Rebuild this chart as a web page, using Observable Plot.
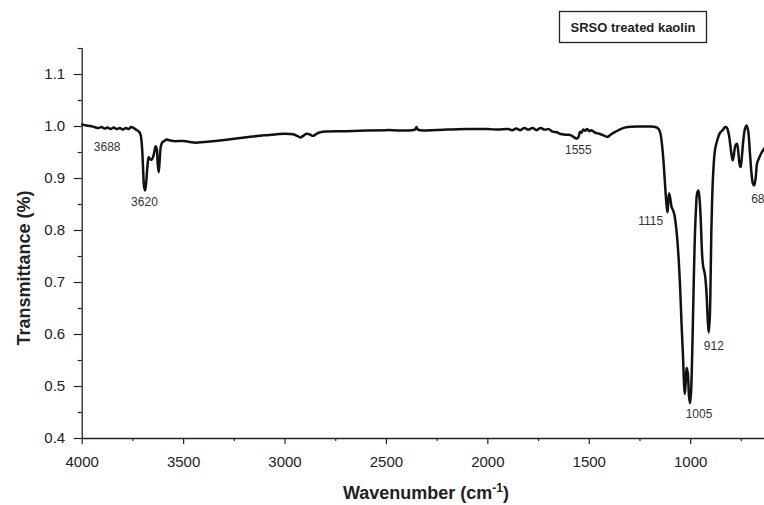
<!DOCTYPE html>
<html>
<head>
<meta charset="utf-8">
<script src="https://cdn.jsdelivr.net/npm/d3@7"></script>
<script src="https://cdn.jsdelivr.net/npm/@observablehq/plot@0.6"></script>
<style>
  html, body { margin: 0; padding: 0; background: #fff; }
  #chart { position: relative; width: 764px; height: 505px; overflow: hidden; }
</style>
</head>
<body>
<div id="chart"></div>
<script>
// ---- data ----
const wavenumber = [
  4000, 3980, 3960, 3940, 3920, 3905, 3890, 3875, 3860, 3845, 3830, 3815, 3800, 3785, 3770, 3760, 3750, 3735, 3720, 3712,
  3705, 3700, 3695, 3690, 3685, 3678, 3672, 3665, 3658, 3652, 3645, 3638, 3633, 3628, 3623, 3618, 3612, 3604, 3595, 3585,
  3575, 3550, 3500, 3450, 3400, 3300, 3200, 3100, 3000, 2960, 2940, 2925, 2910, 2895, 2880, 2860, 2845, 2825, 2700, 2500,
  2360, 2352, 2345, 2200, 2100, 2000, 1950, 1900, 1880, 1860, 1840, 1820, 1800, 1780, 1760, 1740, 1720, 1700, 1680, 1660,
  1645, 1630, 1615, 1600, 1585, 1570, 1560, 1553, 1545, 1538, 1530, 1520, 1510, 1500, 1490, 1470, 1450, 1430, 1410, 1395,
  1370, 1340, 1310, 1250, 1200, 1175, 1160, 1150, 1140, 1132, 1125, 1118, 1114, 1110, 1106, 1100, 1094, 1088, 1080, 1070,
  1060, 1052, 1045, 1038, 1032, 1029, 1025, 1020, 1014, 1008, 1003, 998, 992, 986, 980, 974, 968, 962, 956, 951,
  943, 938, 932, 928, 922, 916, 911, 906, 902, 898, 894, 889, 880, 868, 855, 842, 830, 822, 812, 800,
  793, 787, 780, 772, 765, 760, 754, 748, 740, 732, 724, 716, 708, 700, 693, 687, 680, 672, 662, 650,
  636
];
const transmittance = [
  1.004, 1.002, 1.001, 0.999, 0.997, 0.999, 0.996, 0.998, 0.995, 0.998, 0.995, 0.997, 0.994, 0.997, 0.995, 0.999, 0.998, 0.994, 0.990, 0.984,
  0.960, 0.920, 0.885, 0.877, 0.890, 0.925, 0.941, 0.937, 0.936, 0.940, 0.950, 0.962, 0.958, 0.930, 0.912, 0.935, 0.962, 0.970, 0.972, 0.975,
  0.974, 0.972, 0.972, 0.969, 0.970, 0.974, 0.979, 0.983, 0.986, 0.985, 0.982, 0.979, 0.982, 0.986, 0.985, 0.982, 0.986, 0.989, 0.991, 0.993,
  0.994, 0.999, 0.994, 0.994, 0.995, 0.995, 0.994, 0.995, 0.993, 0.996, 0.993, 0.997, 0.994, 0.997, 0.993, 0.997, 0.994, 0.995, 0.990, 0.989,
  0.986, 0.985, 0.984, 0.984, 0.982, 0.978, 0.977, 0.980, 0.990, 0.988, 0.994, 0.992, 0.995, 0.991, 0.993, 0.988, 0.986, 0.983, 0.980, 0.984,
  0.990, 0.996, 0.999, 1.000, 1.000, 0.999, 0.996, 0.988, 0.960, 0.922, 0.880, 0.845, 0.835, 0.860, 0.871, 0.860, 0.845, 0.840, 0.830, 0.800,
  0.750, 0.690, 0.620, 0.560, 0.500, 0.486, 0.505, 0.536, 0.525, 0.480, 0.468, 0.490, 0.570, 0.680, 0.780, 0.840, 0.872, 0.877, 0.860, 0.826,
  0.750, 0.730, 0.720, 0.710, 0.680, 0.630, 0.604, 0.630, 0.700, 0.800, 0.860, 0.910, 0.955, 0.975, 0.988, 0.993, 0.999, 0.998, 0.985, 0.950,
  0.935, 0.945, 0.963, 0.967, 0.950, 0.930, 0.922, 0.940, 0.975, 0.996, 1.002, 0.990, 0.950, 0.910, 0.890, 0.887, 0.900, 0.930, 0.940, 0.950,
  0.958
];

const peakLabels = ["3688", "3620", "1555", "1115", "1005", "912"];
const peakLabelX = [3877, 3693, 1554, 1197, 959, 886];
const peakLabelY = [0.960, 0.854, 0.954, 0.818, 0.447, 0.577];
// label at the right edge, shown cut to its first two digits in the reference
const edgeLabel = ["68"];
const edgeLabelX = [636];
const edgeLabelY = [0.861];

const xMajorTicks = [4000, 3500, 3000, 2500, 2000, 1500, 1000];
const xMinorTicks = [3750, 3250, 2750, 2250, 1750, 1250, 750];
const yMajorTicks = [0.4, 0.5, 0.6, 0.7, 0.8, 0.9, 1.0, 1.1];
const yMinorTicks = [0.45, 0.55, 0.65, 0.75, 0.85, 0.95, 1.05, 1.15];

const seriesName = "SRSO treated kaolin";
const xTitle = "Wavenumber (cm";
const xTitleSup = "-1";
const yTitle = "Transmittance (%)";

// ---- build ----
const spectrum = wavenumber.map((w, i) => ({w, t: transmittance[i]}));
const annotations = peakLabels.map((s, i) => ({s, w: peakLabelX[i], t: peakLabelY[i]}));
const edgeAnnotations = edgeLabel.map((s, i) => ({s, w: edgeLabelX[i], t: edgeLabelY[i]}));

const font = "'Liberation Sans', Arial, Helvetica, sans-serif";

const chart = Plot.plot({
  width: 764,
  height: 505,
  marginLeft: 81.7,
  marginRight: 0,
  marginTop: 48,
  marginBottom: 67,
  style: {fontFamily: font, fontSize: "15px", color: "#222", background: "#fff"},
  x: {domain: [4000, 636]},
  y: {domain: [0.4, 1.15]},
  marks: [
    Plot.axisX({ticks: xMajorTicks, tickSize: 6, tickPadding: 12, tickFormat: d => String(d), label: null, stroke: "#222", strokeWidth: 1.2}),
    Plot.axisX({ticks: xMinorTicks, tickSize: 3, tickFormat: () => "", label: null, stroke: "#222", strokeWidth: 1.2}),
    Plot.axisY({ticks: yMajorTicks, tickSize: 8, tickPadding: 9, tickFormat: d3.format(".1f"), label: null, stroke: "#222", strokeWidth: 1.2}),
    Plot.axisY({ticks: yMinorTicks, tickSize: 4, tickFormat: () => "", label: null, stroke: "#222", strokeWidth: 1.2}),
    Plot.ruleY([0.4], {stroke: "#222", strokeWidth: 1.3}),
    Plot.ruleX([4000], {stroke: "#222", strokeWidth: 1.3}),
    Plot.line(spectrum, {x: "w", y: "t", stroke: "#111", strokeWidth: 2.5, curve: "catmull-rom"}),
    Plot.text(annotations, {x: "w", y: "t", text: "s", fontSize: 12, fill: "#333", textAnchor: "middle"}),
    Plot.text(edgeAnnotations, {x: "w", y: "t", text: "s", fontSize: 12, fill: "#333", textAnchor: "end"})
  ]
});

document.getElementById("chart").appendChild(chart);

const svg = d3.select(chart);
// x axis title with superscript
const xt = svg.append("text")
  .attr("x", 426).attr("y", 499)
  .attr("text-anchor", "middle")
  .attr("font-family", font).attr("font-weight", "bold").attr("font-size", 18).attr("fill", "#222");
xt.append("tspan").text(xTitle);
xt.append("tspan").attr("dy", -7).attr("font-size", 12).text(xTitleSup);
xt.append("tspan").attr("dy", 7).text(")");

// y axis title
svg.append("text")
  .attr("transform", "translate(30,268) rotate(-90)")
  .attr("text-anchor", "middle")
  .attr("font-family", font).attr("font-weight", "bold").attr("font-size", 18).attr("fill", "#222")
  .text(yTitle);

// legend box
const lg = svg.append("g");
lg.append("rect").attr("x", 559.5).attr("y", 11.5).attr("width", 147).attr("height", 31)
  .attr("fill", "#fff").attr("stroke", "#222").attr("stroke-width", 1.3);
lg.append("text").attr("x", 633).attr("y", 32)
  .attr("text-anchor", "middle")
  .attr("font-family", font).attr("font-weight", "bold").attr("font-size", 13).attr("fill", "#222")
  .text(seriesName);
</script>
</body>
</html>
